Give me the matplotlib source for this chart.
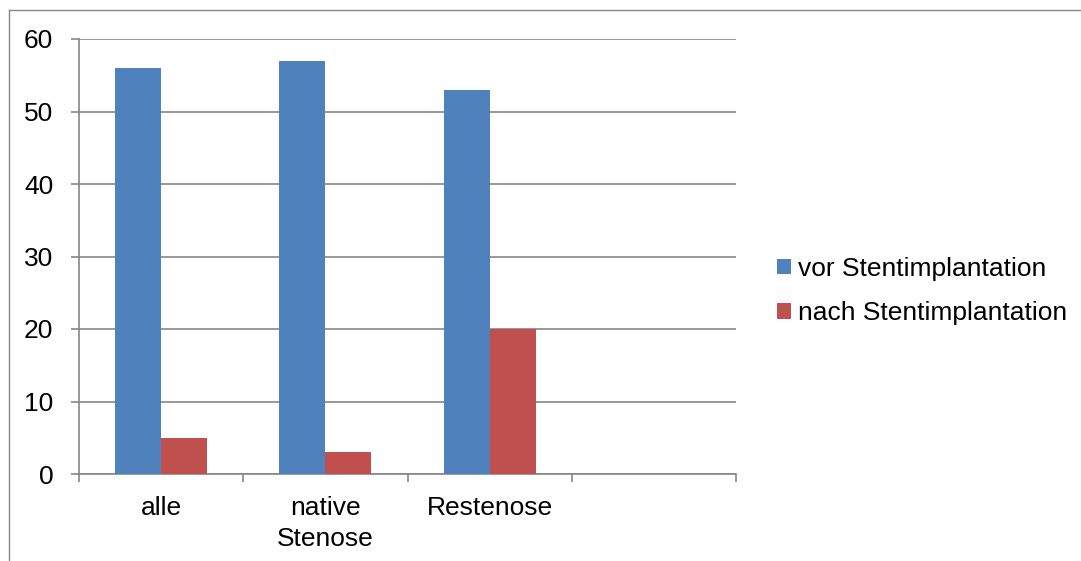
import matplotlib
matplotlib.use("Agg")
import matplotlib.pyplot as plt
from matplotlib.lines import Line2D
from matplotlib.patches import Patch

categories = ["alle", "native\nStenose", "Restenose", ""]
vor = [56, 57, 53, None]
nach = [5, 3, 20, None]
series_names = ["vor Stentimplantation", "nach Stentimplantation"]
yticks = [0, 10, 20, 30, 40, 50, 60]

plt.rcParams['font.family'] = ['Liberation Sans', 'DejaVu Sans']

W, H = 1081, 561
FS = 19
fig = plt.figure(figsize=(W / 100, H / 100), dpi=100)
ax = fig.add_axes([79 / W, 1 - 474 / H, (736 - 79) / W, (474 - 39) / H])

blue = "#4F81BD"
red = "#C0504D"
grid_c = "#868686"
bw = 0.28

for i, cat in enumerate(categories):
    c = i + 0.5
    if vor[i] is not None:
        ax.bar(c - bw / 2, vor[i], width=bw, color=blue, edgecolor="none", zorder=3)
    if nach[i] is not None:
        ax.bar(c + bw / 2, nach[i], width=bw, color=red, edgecolor="none", zorder=3)

ax.set_xlim(0, len(categories))
ax.set_ylim(0, 60)
ax.set_yticks(yticks)
ax.set_yticklabels([str(t) for t in yticks], fontsize=FS)
ax.yaxis.grid(True, color=grid_c, linewidth=1.2, zorder=0)
ax.set_axisbelow(True)

ax.set_xticks(range(len(categories) + 1))
ax.set_xticklabels([])
ax.set_xticks([i + 0.5 for i in range(len(categories))], minor=True)
ax.set_xticklabels(categories, minor=True, fontsize=FS, linespacing=1.35)
ax.tick_params(axis="x", which="minor", length=0, pad=16)
ax.tick_params(axis="x", which="major", length=6, width=1.2, color=grid_c, direction="out")
ax.tick_params(axis="y", length=5.5, width=1.2, color=grid_c, direction="out", pad=13)

for s in ["top", "right"]:
    ax.spines[s].set_visible(False)
for s in ["left", "bottom"]:
    ax.spines[s].set_color(grid_c)
    ax.spines[s].set_linewidth(1.2)

handles = [Patch(facecolor=blue, edgecolor="none"), Patch(facecolor=red, edgecolor="none")]
leg = fig.legend(handles, series_names, loc="center left",
                 bbox_to_anchor=(777 / W, 1 - 291 / H), frameon=False,
                 fontsize=FS, handlelength=0.53, handleheight=0.53,
                 handletextpad=0.25, labelspacing=0.78, borderaxespad=0,
                 borderpad=0)

# outer chart frame
fig.add_artist(Line2D([9 / W, 9 / W], [0, 1 - 10 / H], transform=fig.transFigure,
                      color=grid_c, linewidth=1.0))
fig.add_artist(Line2D([9 / W, 1], [1 - 10 / H, 1 - 10 / H], transform=fig.transFigure,
                      color=grid_c, linewidth=1.0))

fig.savefig("out.png", dpi=100)
